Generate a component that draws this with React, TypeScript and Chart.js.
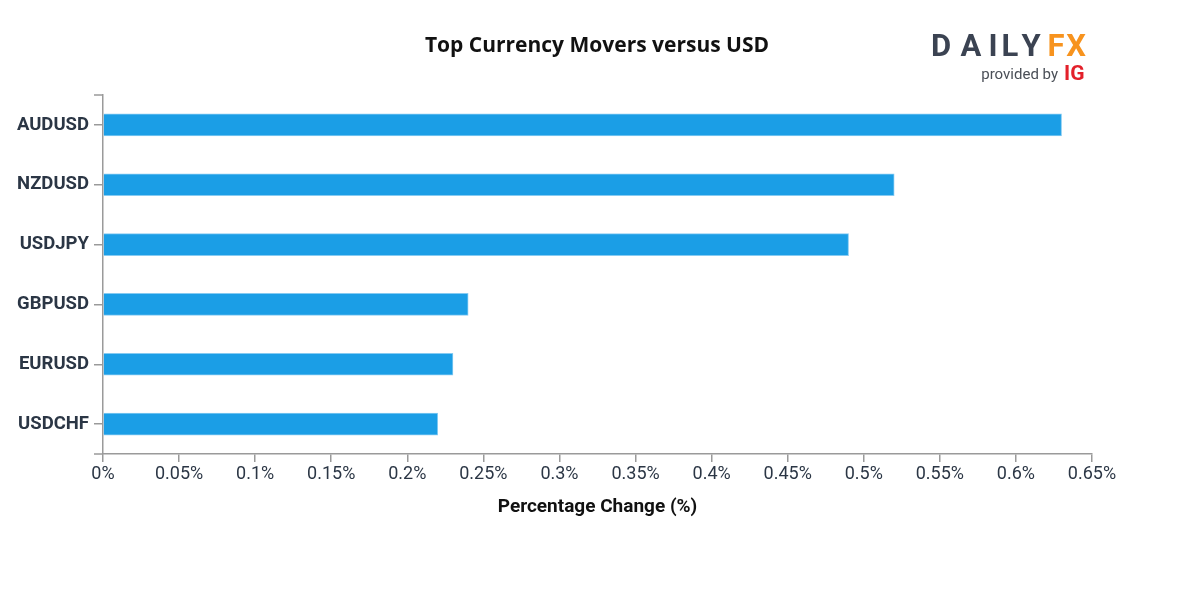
import React, { useEffect, useRef } from "react";
import { Chart, registerables } from "chart.js";

Chart.register(...registerables);

const categories = ["AUDUSD", "NZDUSD", "USDJPY", "GBPUSD", "EURUSD", "USDCHF"];
const values = [0.63, 0.52, 0.49, 0.24, 0.23, 0.22];
const xMin = 0;
const xMax = 0.65;
const xStep = 0.05;
const chartTitle = "Top Currency Movers versus USD";
const xAxisTitle = "Percentage Change (%)";

const AXIS = "#9a9a9a";
const LABEL = "#2b3645";

const decorPlugin = {
  id: "decor",
  afterDraw(chart: any) {
    const { ctx, chartArea } = chart;
    ctx.save();
    // outer ticks of y axis (domain ends)
    ctx.strokeStyle = AXIS;
    ctx.lineWidth = 1.5;
    ctx.beginPath();
    ctx.moveTo(chartArea.left - 9, chartArea.top);
    ctx.lineTo(chartArea.left, chartArea.top);
    ctx.moveTo(chartArea.left - 9, chartArea.bottom);
    ctx.lineTo(chartArea.left, chartArea.bottom);
    ctx.stroke();

    // title
    ctx.fillStyle = "#111111";
    ctx.font = '700 21px "Open Sans"';
    ctx.textAlign = "center";
    ctx.textBaseline = "middle";
    ctx.fillText(chartTitle, 597, 46);

    // logo
    ctx.font = '700 31px Roboto';
    ctx.textBaseline = "alphabetic";
    const letters: [string, number, string][] = [
      ["D", 941, "#3b4352"],
      ["A", 971, "#3b4352"],
      ["I", 993, "#3b4352"],
      ["L", 1010, "#3b4352"],
      ["Y", 1031, "#3b4352"],
      ["F", 1056, "#f7931e"],
      ["X", 1076, "#f7931e"],
    ];
    for (const [ch, x, c] of letters) {
      ctx.fillStyle = c;
      ctx.fillText(ch, x, 56);
    }
    ctx.textAlign = "right";
    ctx.fillStyle = "#4a4f57";
    ctx.font = '400 15px Roboto';
    ctx.fillText("provided by", 1058, 79);
    ctx.fillStyle = "#e3202a";
    ctx.font = '700 21px Roboto';
    ctx.textAlign = "left";
    ctx.fillText("IG", 1064, 80);
    ctx.restore();
  },
};

function BarChart() {
  const ref = useRef<HTMLCanvasElement | null>(null);
  useEffect(() => {
    if (!ref.current) return;
    const chart = new Chart(ref.current, {
      type: "bar",
      data: {
        labels: categories,
        datasets: [
          {
            data: values,
            backgroundColor: "#1b9ee6",
            borderColor: "#86cbf2",
            borderWidth: 1,
            borderSkipped: "start",
            barThickness: 22,
          },
        ],
      },
      options: {
        indexAxis: "y",
        animation: false,
        responsive: false,
        maintainAspectRatio: false,
        layout: { padding: { top: 95, right: 108, bottom: 77, left: 0 } },
        plugins: {
          legend: { display: false },
          title: { display: false },
          tooltip: { enabled: false },
        },
        scales: {
          x: {
            type: "linear",
            min: xMin,
            max: xMax,
            afterFit: (s: any) => {
              s.height = 69;
            },
            ticks: {
              stepSize: xStep,
              padding: 2,
              color: LABEL,
              font: { family: "Roboto", size: 18 },
              maxRotation: 0,
              autoSkip: false,
              callback: (v: any) => `${+Number(v).toFixed(2)}%`,
            },
            grid: {
              drawOnChartArea: false,
              drawTicks: true,
              tickLength: 8,
              color: AXIS,
              lineWidth: 1.5,
            },
            border: { display: true, color: AXIS, width: 1.5 },
            title: {
              display: true,
              text: xAxisTitle,
              color: "#111111",
              font: { family: "Roboto", size: 19, weight: "bold" },
              padding: { top: 0, bottom: 4 },
            },
          },
          y: {
            type: "category",
            afterFit: (s: any) => {
              s.width = 103;
            },
            ticks: {
              padding: 5,
              color: LABEL,
              font: { family: "Roboto", size: 18.5, weight: "bold" },
            },
            grid: {
              offset: false,
              drawOnChartArea: false,
              drawTicks: true,
              tickLength: 9,
              color: AXIS,
              lineWidth: 1.5,
            },
            border: { display: true, color: AXIS, width: 1.5 },
          },
        },
      },
      plugins: [decorPlugin],
    } as any);
    return () => chart.destroy();
  }, []);
  return <canvas ref={ref} width={1200} height={600} />;
}

export default function App() {
  return (
    <div
      style={{
        position: "fixed",
        left: 0,
        top: 0,
        width: 1200,
        height: 600,
        background: "#ffffff",
      }}
    >
      <BarChart />
    </div>
  );
}
